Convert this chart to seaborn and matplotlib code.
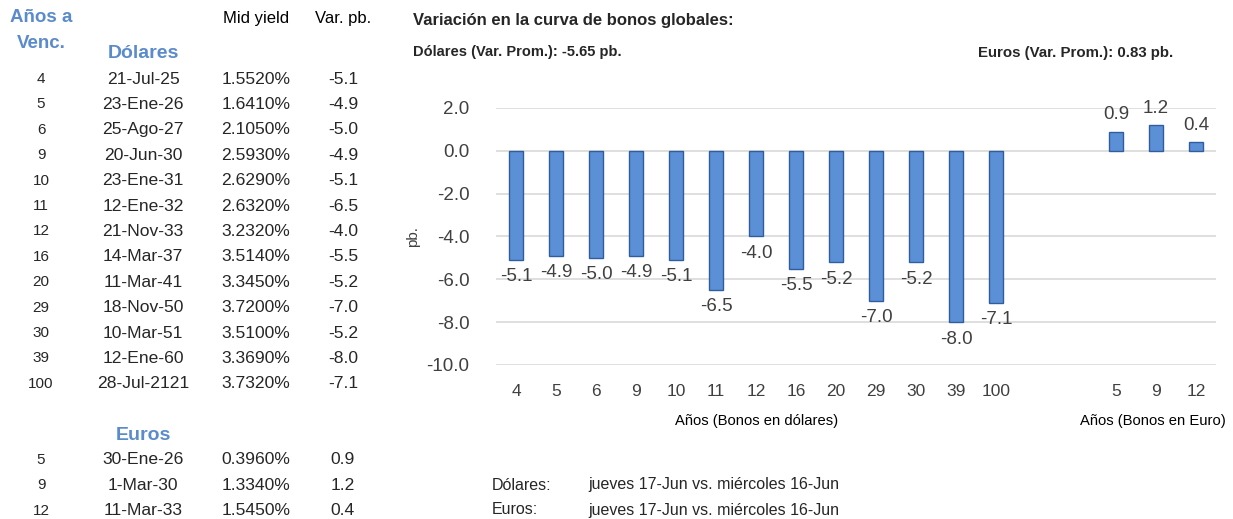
import matplotlib
matplotlib.use("Agg")
import pandas as pd
import matplotlib.pyplot as plt
import seaborn as sns

# --- datos de la tabla ---
anios_usd = ["4", "5", "6", "9", "10", "11", "12", "16", "20", "29", "30", "39", "100"]
venc_usd = ["21-Jul-25", "23-Ene-26", "25-Ago-27", "20-Jun-30", "23-Ene-31", "12-Ene-32",
            "21-Nov-33", "14-Mar-37", "11-Mar-41", "18-Nov-50", "10-Mar-51", "12-Ene-60", "28-Jul-2121"]
yield_usd = ["1.5520%", "1.6410%", "2.1050%", "2.5930%", "2.6290%", "2.6320%", "3.2320%",
             "3.5140%", "3.3450%", "3.7200%", "3.5100%", "3.3690%", "3.7320%"]
var_usd = [-5.1, -4.9, -5.0, -4.9, -5.1, -6.5, -4.0, -5.5, -5.2, -7.0, -5.2, -8.0, -7.1]

anios_eur = ["5", "9", "12"]
venc_eur = ["30-Ene-26", "1-Mar-30", "11-Mar-33"]
yield_eur = ["0.3960%", "1.3340%", "1.5450%"]
var_eur = [0.9, 1.2, 0.4]

prom_usd = -5.65
prom_eur = 0.83

BLUE_HDR = "#5B8BCB"
BAR = "#5B8FD6"
EDGE = "#2F5E9E"
TXT = "#404040"

sns.set_theme(style="white")
plt.rcParams["font.family"] = ["Liberation Sans", "DejaVu Sans"]
NARROW = ["Liberation Sans Narrow", "Liberation Sans", "DejaVu Sans"]

W, H = 1233, 519
fig = plt.figure(figsize=(W / 100, H / 100), dpi=100)


def px(x, y):
    return x / W, 1 - y / H


# ---------------- tabla izquierda ----------------
fig.text(*px(41, 18), "Años a", ha="center", va="center", fontsize=13.5, fontweight="bold", color=BLUE_HDR)
fig.text(*px(41, 44), "Venc.", ha="center", va="center", fontsize=13.5, fontweight="bold", color=BLUE_HDR)
fig.text(*px(143, 53), "Dólares", ha="center", va="center", fontsize=14, fontweight="bold", color=BLUE_HDR)
fig.text(*px(256, 19), "Mid yield", ha="center", va="center", fontsize=12, color="black")
fig.text(*px(343, 19), "Var. pb.", ha="center", va="center", fontsize=12, color="black")

row_h = 25.4
for i, (a, v, y, d) in enumerate(zip(anios_usd, venc_usd, yield_usd, var_usd)):
    yy = 79 + i * row_h
    fig.text(*px(41, yy), a, ha="center", va="center", fontsize=11, family=NARROW)
    fig.text(*px(143, yy), v, ha="center", va="center", fontsize=12.6)
    fig.text(*px(256, yy), y, ha="center", va="center", fontsize=12.6)
    fig.text(*px(343, yy), f"{d:.1f}", ha="center", va="center", fontsize=12.6)

fig.text(*px(143, 435), "Euros", ha="center", va="center", fontsize=14, fontweight="bold", color=BLUE_HDR)
for i, (a, v, y, d) in enumerate(zip(anios_eur, venc_eur, yield_eur, var_eur)):
    yy = 460 + i * row_h
    fig.text(*px(41, yy), a, ha="center", va="center", fontsize=11, family=NARROW)
    fig.text(*px(143, yy), v, ha="center", va="center", fontsize=12.6)
    fig.text(*px(256, yy), y, ha="center", va="center", fontsize=12.6)
    fig.text(*px(343, yy), f"{d:.1f}", ha="center", va="center", fontsize=12.6)

# ---------------- grafico de barras ----------------
gaps = ["_g1", "_g2"]
keys_usd = ["USD " + a for a in anios_usd]
keys_eur = ["EUR " + a for a in anios_eur]
df = pd.DataFrame({
    "key": keys_usd + keys_eur,
    "var": var_usd + var_eur,
})
order = keys_usd + gaps + keys_eur
tick_labels = anios_usd + ["", ""] + anios_eur

ax = fig.add_axes([496 / W, 1 - 365 / H, 720 / W, (365 - 108) / H])
sns.barplot(data=df, x="key", y="var", order=order, color=BAR, width=0.33,
            edgecolor=EDGE, linewidth=1, saturation=1, ax=ax)
ax.set_ylim(-10, 2)
ax.set_xlim(-0.5, len(order) - 0.5)
yt = [2, 0, -2, -4, -6, -8, -10]
ax.set_yticks(yt)
ax.set_yticklabels([f"{v:.1f}" for v in yt], fontsize=13.5, color=TXT, family=NARROW)
ax.set_xticks(range(len(order)))
ax.set_xticklabels(tick_labels, fontsize=12.5, color=TXT, family=NARROW)
ax.tick_params(axis="y", length=0, pad=19)
ax.tick_params(axis="x", length=0, pad=14)
ax.grid(axis="y", color="#D9D9D9", linewidth=1.2)
ax.set_axisbelow(True)
for s in ax.spines.values():
    s.set_visible(False)
ax.set_xlabel("")
ax.set_ylabel("pb.", fontsize=11, color=TXT, family=NARROW, labelpad=5)

for cont in ax.containers:
    ax.bar_label(cont, fmt="%.1f", padding=6, fontsize=13.5, color=TXT, family=NARROW)

fig.text(*px(757, 421), "Años (Bonos en dólares)", ha="center", va="center", fontsize=10.6,
         color="black", family=NARROW)
fig.text(*px(1153, 421), "Años (Bonos en Euro)", ha="center", va="center", fontsize=10.6,
         color="black", family=NARROW)

fig.text(*px(413, 20), "Variación en la curva de bonos globales:", ha="left", va="center",
         fontsize=12, fontweight="bold", family=NARROW)
fig.text(*px(413, 52), f"Dólares (Var. Prom.): {prom_usd:.2f} pb.", ha="left", va="center",
         fontsize=10.5, fontweight="bold", family=NARROW)
fig.text(*px(978, 53), f"Euros (Var. Prom.): {prom_eur:.2f} pb.", ha="left", va="center",
         fontsize=10.8, fontweight="bold", family=NARROW)

fig.text(*px(492, 485), "Dólares:", ha="left", va="center", fontsize=11.5, family=NARROW)
fig.text(*px(588, 485), "jueves 17-Jun vs. miércoles 16-Jun", ha="left", va="center",
         fontsize=11.5, family=NARROW)
fig.text(*px(492, 510), "Euros:", ha="left", va="center", fontsize=11.5, family=NARROW)
fig.text(*px(588, 510), "jueves 17-Jun vs. miércoles 16-Jun", ha="left", va="center",
         fontsize=11.5, family=NARROW)

fig.savefig("out.png", dpi=100)
